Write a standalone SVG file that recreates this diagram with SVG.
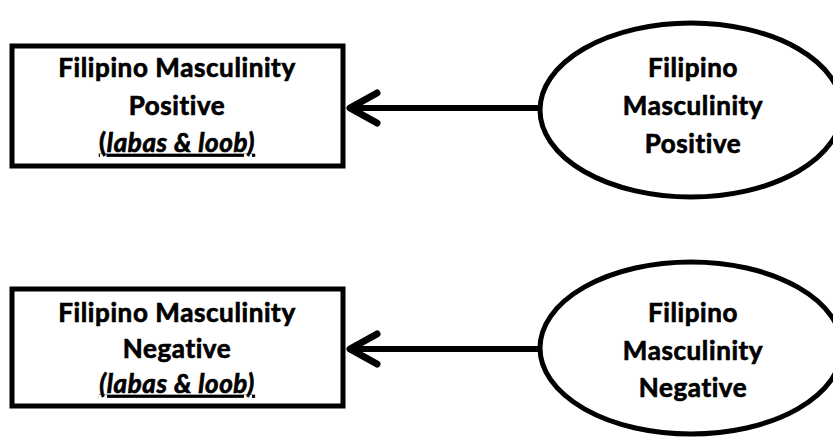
<svg xmlns="http://www.w3.org/2000/svg" width="833" height="438" viewBox="0 0 833 438">
  <style>
    .box { fill: #fff; stroke: #000; stroke-width: 5; }
    .oval { fill: #fff; stroke: #000; stroke-width: 5; }
    .lbl { font-family: Lato, "Liberation Sans", sans-serif; font-weight: bold; font-size: 26px; letter-spacing: 0.6px; font-variant-ligatures: none; fill: #000; stroke: #000; stroke-width: 0.7px; text-anchor: middle; }
    .it { font-style: italic; }
    .wire { stroke: #000; stroke-width: 6; fill: none; }
    .head { stroke: #000; stroke-width: 7; fill: none; stroke-linecap: round; stroke-linejoin: round; }
  </style>
  <rect width="833" height="438" fill="#fff"/>

  <g id="connectors">
    <line class="wire" x1="540" y1="108" x2="350" y2="108"/>
    <polyline class="head" points="377,93 350,108 377,123"/>
    <line class="wire" x1="540" y1="349" x2="350" y2="349"/>
    <polyline class="head" points="377,334 350,349 377,364"/>
  </g>

  <g id="box-positive">
    <rect class="box" x="12" y="46" width="331" height="120"/>
    <text class="lbl" x="177" y="77">Filipino Masculinity</text>
    <text class="lbl" x="177" y="115">Positive</text>
    <text class="lbl" x="177" y="152" text-decoration="underline">(<tspan class="it">labas &amp; loob)</tspan></text>
  </g>

  <g id="oval-positive">
    <ellipse class="oval" cx="691" cy="110" rx="151" ry="87"/>
    <text class="lbl" x="693" y="77">Filipino</text>
    <text class="lbl" x="693" y="115">Masculinity</text>
    <text class="lbl" x="693" y="153">Positive</text>
  </g>

  <g id="box-negative">
    <rect class="box" x="12" y="289" width="331" height="117"/>
    <text class="lbl" x="177" y="322">Filipino Masculinity</text>
    <text class="lbl" x="177" y="358">Negative</text>
    <text class="lbl it" x="177" y="393" text-decoration="underline">(labas &amp; loob)</text>
  </g>

  <g id="oval-negative">
    <ellipse class="oval" cx="691" cy="348" rx="151" ry="86"/>
    <text class="lbl" x="693" y="322">Filipino</text>
    <text class="lbl" x="693" y="360">Masculinity</text>
    <text class="lbl" x="693" y="397">Negative</text>
  </g>
</svg>
